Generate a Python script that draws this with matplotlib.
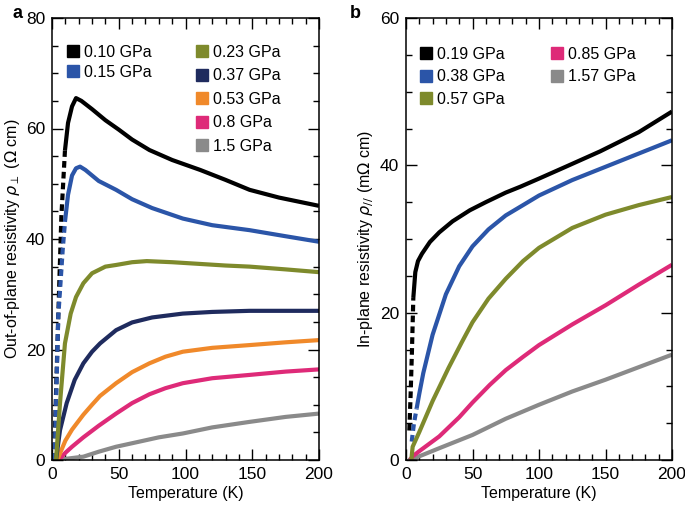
import numpy as np
import matplotlib
matplotlib.use("Agg")
import matplotlib.pyplot as plt
from matplotlib.lines import Line2D
from matplotlib.legend import Legend
from matplotlib.ticker import MultipleLocator

plt.rcParams['font.family'] = ['Liberation Sans', 'DejaVu Sans']
plt.rcParams['font.size'] = 11

# ---- panel a : out-of-plane resistivity (Ohm cm) ----
a_labels = ['0.10 GPa', '0.15 GPa', '0.23 GPa', '0.37 GPa', '0.53 GPa', '0.8 GPa', '1.5 GPa']
a_colors = ['#000000', '#2b55a8', '#7e8a2c', '#1f2b5e', '#f0892a', '#de2a78', '#8a8a8a']

a_black_lowT = [1.5, 3, 4.7, 7, 9.7]
a_black_lowR = [0, 12, 26, 44, 56]
a_black_T = [9.7, 12, 15, 18, 22, 30, 40, 50, 60, 73, 90, 111, 130, 148, 170, 190, 200]
a_black_R = [56, 61, 64, 65.5, 65, 63.5, 61.5, 59.8, 58, 56.1, 54.3, 52.5, 50.7, 48.9, 47.5, 46.5, 46]

a_blue_lowT = [2, 4.7, 8, 9.7]
a_blue_lowR = [0, 26, 38, 43]
a_blue_T = [9.7, 12, 15, 18, 21, 25, 35, 48, 60, 75, 98, 120, 148, 175, 200]
a_blue_R = [43.1, 48, 51.5, 52.8, 53.1, 52.5, 50.5, 48.9, 47.2, 45.6, 43.7, 42.5, 41.6, 40.5, 39.5]

a_olive_T = [3, 6, 9.7, 14, 18, 23.5, 30, 40, 48, 60, 71, 90, 110, 130, 148, 175, 200]
a_olive_R = [0, 10.3, 21.1, 26.5, 29.5, 32, 33.8, 35, 35.3, 35.8, 36.0, 35.8, 35.5, 35.2, 35.0, 34.5, 34.0]

a_navy_T = [3, 6, 11, 17, 23.5, 30, 36, 48, 60, 75, 98, 120, 148, 175, 200]
a_navy_R = [0, 5.4, 10.3, 14.5, 17.5, 19.6, 21.1, 23.5, 24.9, 25.8, 26.5, 26.8, 27.0, 27.0, 27.0]

a_orange_T = [4, 6, 10, 15, 23.5, 30, 36, 48, 60, 73, 85, 98, 120, 148, 175, 200]
a_orange_R = [0, 1.2, 3.5, 5.5, 8.2, 10.0, 11.6, 13.9, 15.9, 17.5, 18.7, 19.6, 20.3, 20.8, 21.3, 21.7]

a_pink_T = [5, 10, 15, 23.5, 35, 48, 60, 73, 85, 98, 120, 148, 175, 200]
a_pink_R = [0, 1.3, 2.4, 4.1, 6.2, 8.4, 10.3, 11.9, 13.0, 13.9, 14.8, 15.4, 16.0, 16.4]

a_gray_T = [5, 10, 23.5, 35, 48, 65, 80, 98, 120, 148, 175, 200]
a_gray_R = [0, 0.2, 0.6, 1.5, 2.4, 3.3, 4.1, 4.8, 5.9, 6.9, 7.8, 8.4]

# ---- panel b : in-plane resistivity (mOhm cm) ----
b_labels = ['0.19 GPa', '0.38 GPa', '0.57 GPa', '0.85 GPa', '1.57 GPa']
b_colors = ['#000000', '#2b55a8', '#7e8a2c', '#de2a78', '#8a8a8a']

b_black_lowT = [2.5, 3.5, 4.5, 5.5]
b_black_lowR = [4, 9, 15, 22]
b_black_T = [5.5, 7, 9, 12, 18, 25, 35, 48, 60, 75, 86, 100, 120, 146, 175, 200]
b_black_R = [22, 25.5, 27, 28, 29.6, 30.9, 32.4, 33.9, 35.0, 36.3, 37.1, 38.2, 39.8, 41.9, 44.5, 47.3]

b_blue_lowT = [4.3, 6, 8]
b_blue_lowR = [2.5, 5, 7]
b_blue_T = [8, 10, 13, 20, 30, 40, 50, 62, 75, 88, 100, 125, 150, 175, 200]
b_blue_R = [7, 9, 11.8, 17, 22.5, 26.3, 29, 31.3, 33.2, 34.6, 35.9, 38, 39.8, 41.6, 43.4]

b_olive_T = [4, 5, 10, 20, 32, 42, 50, 62, 75, 88, 100, 125, 150, 175, 200]
b_olive_R = [0, 1.8, 3.8, 8, 12.5, 16, 18.7, 21.9, 24.6, 27, 28.8, 31.5, 33.3, 34.6, 35.7]

b_pink_T = [3, 5, 10, 25, 40, 50, 63, 75, 88, 100, 125, 150, 175, 200]
b_pink_R = [0, 0.5, 1.2, 3.2, 5.8, 7.8, 10.2, 12.2, 14.0, 15.6, 18.4, 21, 23.8, 26.5]

b_gray_T = [2, 5, 10, 25, 50, 75, 100, 125, 150, 175, 200]
b_gray_R = [0, 0.2, 0.5, 1.6, 3.4, 5.6, 7.5, 9.3, 10.9, 12.6, 14.3]

fig = plt.figure(figsize=(6.85, 5.05), dpi=100)
ax1 = fig.add_axes([52/685, 1-460/505, 267/685, 442/505])
ax2 = fig.add_axes([406/685, 1-460/505, 266/685, 442/505])

lw = 3.0
dash = (0, (1.6, 1.0))

# panel a
ax1.plot(a_black_lowT, a_black_lowR, color=a_colors[0], lw=lw, ls=dash)
ax1.plot(a_blue_lowT, a_blue_lowR, color=a_colors[1], lw=lw, ls=dash)
ax1.plot(a_gray_T, a_gray_R, color=a_colors[6], lw=lw, solid_capstyle='butt')
ax1.plot(a_pink_T, a_pink_R, color=a_colors[5], lw=lw, solid_capstyle='butt')
ax1.plot(a_orange_T, a_orange_R, color=a_colors[4], lw=lw, solid_capstyle='butt')
ax1.plot(a_navy_T, a_navy_R, color=a_colors[3], lw=lw, solid_capstyle='butt')
ax1.plot(a_olive_T, a_olive_R, color=a_colors[2], lw=lw, solid_capstyle='butt')
ax1.plot(a_blue_T, a_blue_R, color=a_colors[1], lw=lw, solid_capstyle='butt')
ax1.plot(a_black_T, a_black_R, color=a_colors[0], lw=lw, solid_capstyle='butt')

# panel b
ax2.plot(b_black_lowT, b_black_lowR, color=b_colors[0], lw=lw, ls=dash)
ax2.plot(b_blue_lowT, b_blue_lowR, color=b_colors[1], lw=lw, ls=dash)
ax2.plot(b_gray_T, b_gray_R, color=b_colors[4], lw=lw, solid_capstyle='butt')
ax2.plot(b_pink_T, b_pink_R, color=b_colors[3], lw=lw, solid_capstyle='butt')
ax2.plot(b_olive_T, b_olive_R, color=b_colors[2], lw=lw, solid_capstyle='butt')
ax2.plot(b_blue_T, b_blue_R, color=b_colors[1], lw=lw, solid_capstyle='butt')
ax2.plot(b_black_T, b_black_R, color=b_colors[0], lw=lw, solid_capstyle='butt')

for ax, ymax in ((ax1, 80), (ax2, 60)):
    ax.set_xlim(0, 200)
    ax.set_ylim(0, ymax)
    ax.xaxis.set_major_locator(MultipleLocator(50))
    ax.xaxis.set_minor_locator(MultipleLocator(10))
    ax.yaxis.set_major_locator(MultipleLocator(20))
    ax.yaxis.set_minor_locator(MultipleLocator(5))
    ax.tick_params(which='both', direction='in', top=True, right=True, width=1.0, labelsize=12.5)
    ax.tick_params(which='major', length=8, pad=5)
    ax.tick_params(which='minor', length=4)
    for s in ax.spines.values():
        s.set_linewidth(1.1)
    ax.set_xlabel('Temperature (K)', fontsize=11.5, labelpad=3)

ax1.set_ylabel(r'Out-of-plane resistivity $\rho_{\perp}$ ($\Omega$ cm)', fontsize=11.5, labelpad=3)
ax2.set_ylabel(r'In-plane resistivity $\rho_{//}$ (m$\Omega$ cm)', fontsize=11.5, labelpad=3)


def sq(c):
    return Line2D([], [], marker='s', ls='none', color=c, markersize=8)


def add_leg(ax, labels, colors, x, y, spacing):
    leg = Legend(ax, [sq(c) for c in colors], labels, loc='upper left',
                 bbox_to_anchor=(x, y), frameon=False, fontsize=11.5,
                 handlelength=0.7, handletextpad=0.35, borderpad=0,
                 borderaxespad=0, labelspacing=spacing)
    ax.add_artist(leg)


add_leg(ax1, a_labels[:2], a_colors[:2], 0.058, 0.94, 0.32)
add_leg(ax1, a_labels[2:], a_colors[2:], 0.542, 0.94, 0.54)
add_leg(ax2, b_labels[:3], b_colors[:3], 0.055, 0.935, 0.48)
add_leg(ax2, b_labels[3:], b_colors[3:], 0.545, 0.935, 0.48)

fig.text(12/685, 1-14/505, 'a', fontsize=13, fontweight='bold', va='center', ha='left')
fig.text(350/685, 1-14/505, 'b', fontsize=13, fontweight='bold', va='center', ha='left')

fig.savefig('out.png', dpi=100)
